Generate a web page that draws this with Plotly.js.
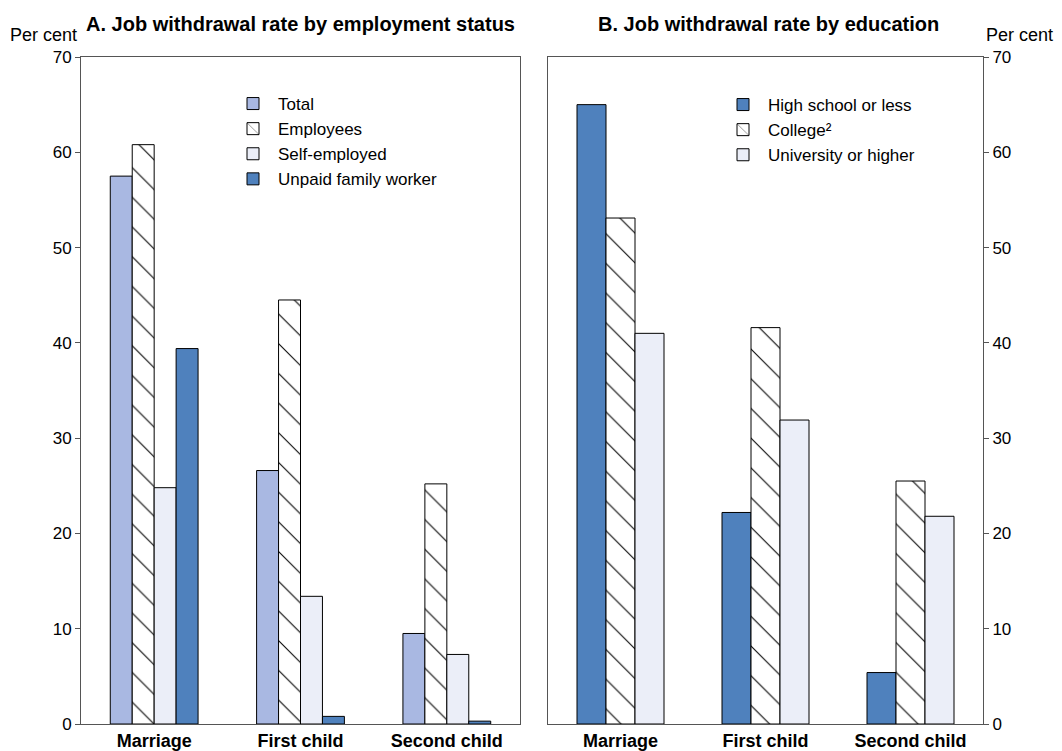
<!DOCTYPE html>
<html>
<head>
<meta charset="utf-8">
<script src="https://cdn.plot.ly/plotly-3.0.1.min.js"></script>
<style>html,body{margin:0;padding:0;background:#fff;}#chart{width:1062px;height:751px;}</style>
</head>
<body>
<div id="chart"></div>
<script>
// ---- data ----
const categories = ['Marriage', 'First child', 'Second child'];
// Panel A: by employment status
const total = [57.5, 26.6, 9.5];
const employees = [60.8, 44.5, 25.2];
const selfEmployed = [24.8, 13.4, 7.3];
const unpaidFamily = [39.4, 0.8, 0.3];
// Panel B: by education
const highSchool = [65.0, 22.2, 5.4];
const college = [53.1, 41.6, 25.5];
const university = [41.0, 31.9, 21.8];
const yTicks = [0, 10, 20, 30, 40, 50, 60, 70];

const FONT = 'Liberation Sans, Arial, sans-serif';
const LIGHT = '#A9B8E2', PALE = '#EBEEF8', BLUE = '#4F81BD';
const outline = {color: '#000', width: 1};
const hatch = {shape: '\\', bgcolor: '#fff', fgcolor: '#000', size: 21, solidity: 0.05};

function bar(name, y, xa, ya, color, legend, pattern) {
  const m = {color: color, line: outline};
  if (pattern) m.pattern = pattern;
  return {type: 'bar', name: name, x: categories, y: y, xaxis: xa, yaxis: ya,
          marker: m, legend: legend, hoverinfo: 'skip'};
}

const data = [
  bar('Total', total, 'x', 'y', LIGHT, 'legend'),
  bar('Employees', employees, 'x', 'y', '#fff', 'legend', hatch),
  bar('Self-employed', selfEmployed, 'x', 'y', PALE, 'legend'),
  bar('Unpaid family worker', unpaidFamily, 'x', 'y', BLUE, 'legend'),
  bar('High school or less', highSchool, 'x2', 'y2', BLUE, 'legend2'),
  bar('College²', college, 'x2', 'y2', '#fff', 'legend2', hatch),
  bar('University or higher', university, 'x2', 'y2', PALE, 'legend2')
];

const xBase = {
  type: 'category', range: [-0.5, 2.5], showline: true, mirror: true, linecolor: '#555', linewidth: 1,
  ticks: '', showgrid: false, zeroline: false, automargin: false,
  tickfont: {family: FONT, size: 18, color: '#000', weight: 'bold'}
};
const yBase = {
  range: [0, 70], tickvals: yTicks, ticks: 'outside', ticklen: 5, tickcolor: '#555',
  showline: true, mirror: true, linecolor: '#555', linewidth: 1, showgrid: false, zeroline: false,
  automargin: false, tickfont: {family: FONT, size: 17, color: '#000'},
  domain: [1 - 724 / 751, 1 - 57 / 751]
};

const legBase = {
  font: {family: FONT, size: 17, color: '#000'}, bgcolor: 'rgba(0,0,0,0)',
  tracegroupgap: 0, itemwidth: 40, traceorder: 'normal', yanchor: 'top', xanchor: 'left'
};

const layout = {
  width: 1062, height: 751,
  margin: {l: 0, r: 0, t: 0, b: 0},
  paper_bgcolor: '#fff', plot_bgcolor: '#fff',
  barmode: 'group', bargap: 0.4, bargroupgap: 0,
  font: {family: FONT, color: '#000'},
  showlegend: true,
  xaxis: Object.assign({}, xBase, {domain: [81 / 1062, 520 / 1062], anchor: 'y'}),
  yaxis: Object.assign({}, yBase, {anchor: 'x', side: 'left'}),
  xaxis2: Object.assign({}, xBase, {domain: [548 / 1062, 983 / 1062], anchor: 'y2'}),
  yaxis2: Object.assign({}, yBase, {anchor: 'x2', side: 'right'}),
  legend: Object.assign({}, legBase, {x: 228 / 1062, y: 1 - 86 / 751}),
  legend2: Object.assign({}, legBase, {x: 718 / 1062, y: 1 - 87 / 751}),
  annotations: [
    {text: '<b>A. Job withdrawal rate by employment status</b>', xref: 'paper', yref: 'paper',
     x: 300 / 1062, y: 1 - 24 / 751, xanchor: 'center', yanchor: 'middle', showarrow: false,
     font: {family: FONT, size: 20, color: '#000'}},
    {text: '<b>B. Job withdrawal rate by education</b>', xref: 'paper', yref: 'paper',
     x: 768 / 1062, y: 1 - 24 / 751, xanchor: 'center', yanchor: 'middle', showarrow: false,
     font: {family: FONT, size: 20, color: '#000'}},
    {text: 'Per cent', xref: 'paper', yref: 'paper', x: 79 / 1062, y: 1 - 35 / 751,
     xanchor: 'right', yanchor: 'middle', showarrow: false, font: {family: FONT, size: 18, color: '#000'}},
    {text: 'Per cent', xref: 'paper', yref: 'paper', x: 984 / 1062, y: 1 - 35 / 751,
     xanchor: 'left', yanchor: 'middle', showarrow: false, font: {family: FONT, size: 18, color: '#000'}}
  ]
};

Plotly.newPlot('chart', data, layout, {displayModeBar: false, staticPlot: true});
</script>
</body>
</html>
